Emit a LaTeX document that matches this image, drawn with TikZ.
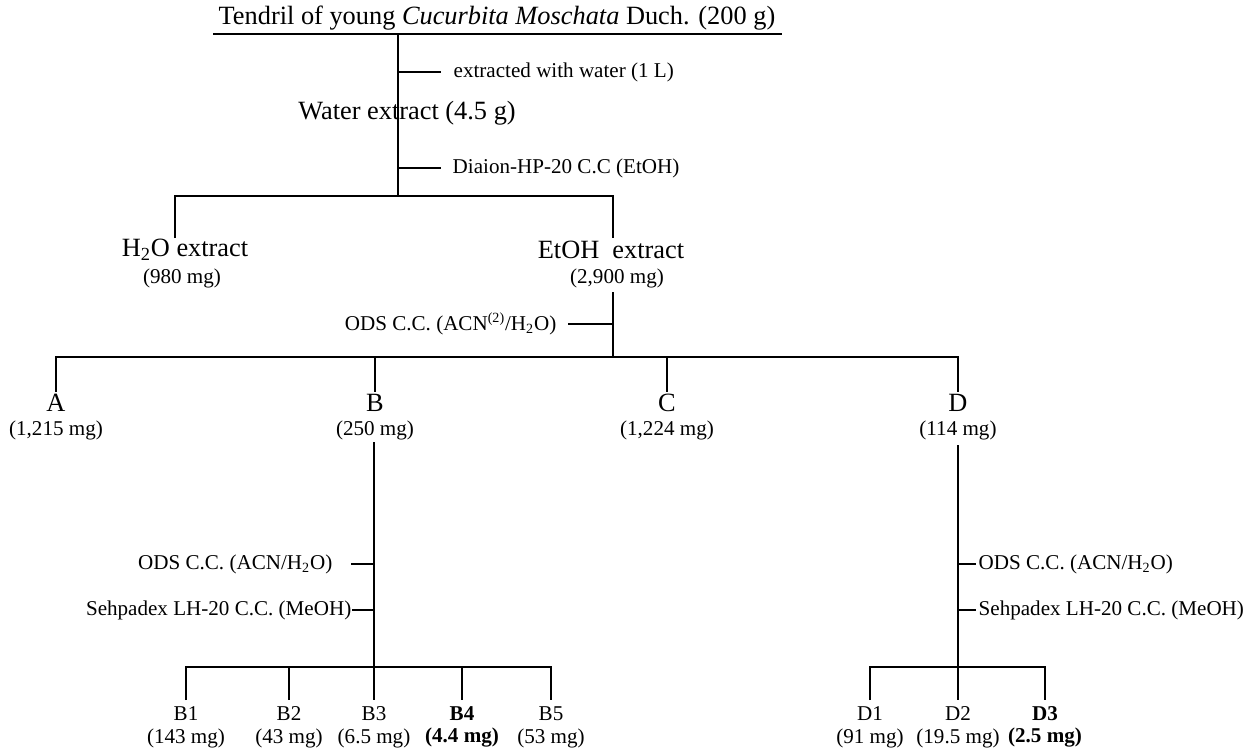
\documentclass[tikz,border=0pt]{standalone}
\usepackage{fontspec}
\setmainfont{Liberation Serif}
\usetikzlibrary{positioning}

\begin{document}
\begin{tikzpicture}[x=0.02cm,y=-0.02cm,line width=0.8pt,
  big/.style={font=\fontsize{15}{17}\selectfont,inner sep=0pt},
  small/.style={font=\fontsize{12}{14}\selectfont,inner sep=0pt}]
\useasboundingbox (0,0) rectangle (1254,750);

% Starting material and water extraction
\node[big] (tendril) at (497,18) {Tendril of young \textit{Cucurbita Moschata} Duch. (200 g)};
\draw (213,34) -- (782,34);
\coordinate (top) at (398,34);
\coordinate (split1) at (398,196);
\draw (top) -- (split1);
\node[small,anchor=west] (water) at (453,72) {extracted with water (1 L)};
\draw (398,72) -- (441,72);
\node[big] (wext) at (407,113) {Water extract (4.5 g)};
\node[small,anchor=west] (diaion) at (452,168) {Diaion-HP-20 C.C (EtOH)};
\draw (398,168) -- (441,168);

% Diaion fractions
\node[big] (h2o) at (185,250) {H\textsubscript{2}O extract};
\node[small] (h2om) at (182,278) {(980 mg)};
\node[big] (etoh) at (611,250) {EtOH\ \ extract};
\node[small] (etohm) at (617,278) {(2,900 mg)};
\draw (175,238) |- (split1) -| (613,238);

% ODS column on EtOH extract
\coordinate (split2) at (613,357);
\draw (613,292) -- (split2);
\node[small,anchor=east] (ods) at (557,324) {ODS C.C. (ACN\textsuperscript{(2)}/H\textsubscript{2}O)};
\draw (568,324) -- (613,324);
\draw (56,392) |- (split2) -| (958,392);
\draw (375,357) -- (375,392);
\draw (667,357) -- (667,392);
\foreach \x/\n/\m/\nm in {56/A/{(1,215 mg)}/fa, 375/B/{(250 mg)}/fb, 667/C/{(1,224 mg)}/fc, 958/D/{(114 mg)}/fd} {
  \node[big] (\nm) at (\x,403) {\n};
  \node[small] (\nm m) at (\x,430) {\m};
}

% Fraction B
\coordinate (bsplit) at (374,667);
\draw (374,442) -- (bsplit);
\node[small,anchor=east] (odsb) at (333,564) {ODS C.C. (ACN/H\textsubscript{2}O)};
\draw (351,564) -- (374,564);
\node[small,anchor=east] (lhb) at (352,610) {Sehpadex LH-20 C.C. (MeOH)};
\draw (352,610) -- (374,610);
\draw (186,700) |- (bsplit) -| (551,700);
\foreach \x/\n/\m/\f in {186/B1/{(143 mg)}/\mdseries, 289/B2/{(43 mg)}/\mdseries, 374/B3/{(6.5 mg)}/\mdseries, 462/B4/{(4.4 mg)}/\bfseries, 551/B5/{(53 mg)}/\mdseries} {
  \draw (\x,667) -- (\x,700);
  \node[small] (\n) at (\x,714) {\f\n};
  \node[small] (\n m) at (\x,738) {\f\m};
}

% Fraction D
\coordinate (dsplit) at (958,667);
\draw (958,445) -- (dsplit);
\node[small,anchor=west] (odsd) at (978,564) {ODS C.C. (ACN/H\textsubscript{2}O)};
\draw (958,564) -- (976,564);
\node[small,anchor=west] (lhd) at (978,610) {Sehpadex LH-20 C.C. (MeOH)};
\draw (958,610) -- (976,610);
\draw (870,700) |- (dsplit) -| (1045,700);
\foreach \x/\n/\m/\f in {870/D1/{(91 mg)}/\mdseries, 958/D2/{(19.5 mg)}/\mdseries, 1045/D3/{(2.5 mg)}/\bfseries} {
  \draw (\x,667) -- (\x,700);
  \node[small] (\n) at (\x,714) {\f\n};
  \node[small] (\n m) at (\x,738) {\f\m};
}
\end{tikzpicture}
\end{document}
